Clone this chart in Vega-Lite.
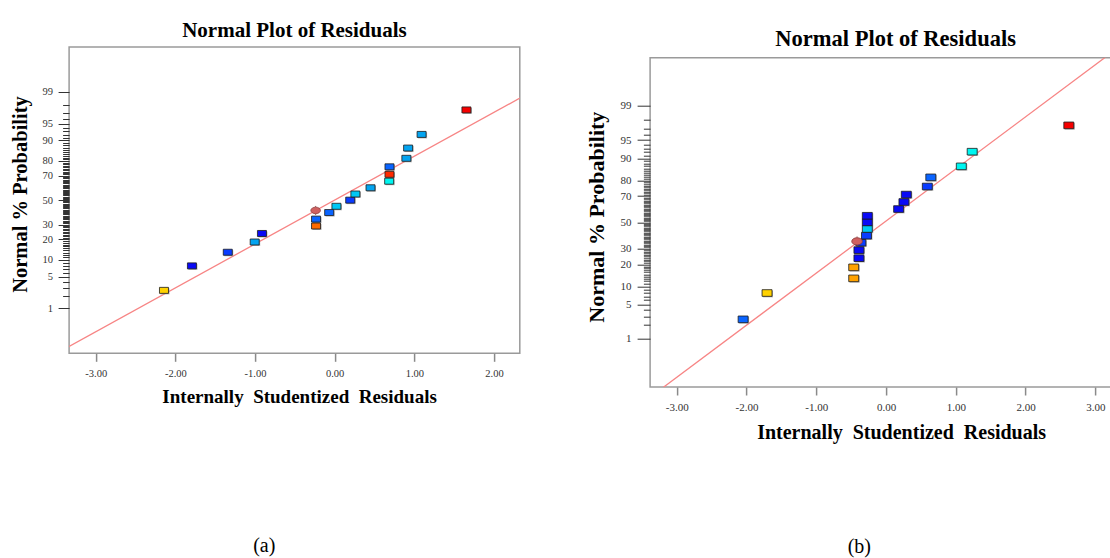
{
  "$schema": "https://vega.github.io/schema/vega-lite/v6.json",
  "autosize": "none",
  "padding": {"left": 69.1, "top": 18, "right": 1040.9, "bottom": 540},
  "background": "white",
  "config": {
    "view": {"stroke": "#9a9a9a", "strokeWidth": 1.5},
    "title": {"font": "Liberation Serif", "fontWeight": "bold", "color": "#000000"},
    "axis": {"labelFont": "Liberation Serif", "titleFont": "Liberation Serif", "titleFontWeight": "bold", "labelColor": "#333333", "titleColor": "#000000", "grid": false, "domain": false, "labelOverlap": false}
  },
  "datasets": {
    "pointsA": [
      {"residual": -2.143, "z": -1.938, "level": 7},
      {"residual": -1.792, "z": -1.412, "level": 1},
      {"residual": -1.342, "z": -1.119, "level": 2},
      {"residual": -1.004, "z": -0.899, "level": 4},
      {"residual": -0.913, "z": -0.716, "level": 1},
      {"residual": -0.234, "z": -0.555, "level": 9},
      {"residual": -0.234, "z": -0.407, "level": 3},
      {"residual": -0.069, "z": -0.266, "level": 3},
      {"residual": 0.022, "z": -0.132, "level": 5},
      {"residual": 0.195, "z": 0, "level": 2},
      {"residual": 0.26, "z": 0.132, "level": 5},
      {"residual": 0.45, "z": 0.266, "level": 4},
      {"residual": 0.684, "z": 0.407, "level": 6},
      {"residual": 0.688, "z": 0.555, "level": 10},
      {"residual": 0.688, "z": 0.716, "level": 3},
      {"residual": 0.9, "z": 0.899, "level": 4},
      {"residual": 0.922, "z": 1.119, "level": 4},
      {"residual": 1.091, "z": 1.412, "level": 4},
      {"residual": 1.654, "z": 1.938, "level": 11}
    ],
    "markerA": [{"residual": -0.239, "z": -0.221}],
    "lineA": [{"residual": -3.4, "z": -3.206}, {"residual": 2.4, "z": 2.263}],
    "pointsB": [
      {"residual": -2.048, "z": -1.938, "level": 3},
      {"residual": -1.705, "z": -1.412, "level": 7},
      {"residual": -0.463, "z": -1.119, "level": 8},
      {"residual": -0.463, "z": -0.899, "level": 8},
      {"residual": -0.388, "z": -0.716, "level": 1},
      {"residual": -0.388, "z": -0.555, "level": 1},
      {"residual": -0.36, "z": -0.407, "level": 2},
      {"residual": -0.28, "z": -0.266, "level": 2},
      {"residual": -0.268, "z": -0.132, "level": 5},
      {"residual": -0.268, "z": 0, "level": 1},
      {"residual": -0.268, "z": 0.132, "level": 1},
      {"residual": 0.181, "z": 0.266, "level": 1},
      {"residual": 0.257, "z": 0.407, "level": 1},
      {"residual": 0.291, "z": 0.555, "level": 1},
      {"residual": 0.592, "z": 0.716, "level": 2},
      {"residual": 0.642, "z": 0.899, "level": 3},
      {"residual": 1.079, "z": 1.119, "level": 6},
      {"residual": 1.235, "z": 1.412, "level": 6},
      {"residual": 2.62, "z": 1.938, "level": 11}
    ],
    "markerB": [{"residual": -0.415, "z": -0.38}],
    "lineB": [{"residual": -3.5, "z": -3.618}, {"residual": 3.7, "z": 3.878}]
  },
  "hconcat": [
    {
      "title": {"text": "(a)", "orient": "bottom", "anchor": "middle", "fontWeight": "normal", "fontSize": 20, "offset": 129.5, "dx": -1},
      "spacing": 0,
      "vconcat": [
        {"width": 1, "height": 1, "view": {"stroke": null}, "data": {"values": []}, "mark": {"type": "point", "opacity": 0}, "encoding": {}},
        {
          "width": 450.7,
          "height": 306.3,
          "title": {"text": "Normal Plot of Residuals", "fontSize": 21, "offset": 6},
          "encoding": {
            "x": {"field": "residual", "type": "quantitative",
              "scale": {"domain": [-3.334, 2.324], "nice": false, "zero": false},
              "axis": {"values": [-3, -2, -1, 0, 1, 2], "labelExpr": "(datum.value < 0 ? '-' : '') + format(abs(datum.value), '.2f')",
                "tickSize": 8, "tickColor": "#8a8a8a", "tickWidth": 1.5, "labelPadding": 7.5, "labelFontSize": 10.5,
                "title": "Internally\u00a0 Studentized\u00a0 Residuals", "titleFontSize": 19, "titlePadding": 7.8, "titleX": 230}},
            "y": {"field": "z", "type": "quantitative",
              "scale": {"domain": [-3.29, 3.29], "nice": false, "zero": false},
              "axis": {
                "values": [-2.3263, -2.0537, -1.8808, -1.7507, -1.6449, -1.5548, -1.4758, -1.4051, -1.3408, -1.2816, -1.2265, -1.175, -1.1264, -1.0803, -1.0364, -0.9945, -0.9542, -0.9154, -0.8779, -0.8416, -0.8064, -0.7722, -0.7388, -0.7063, -0.6745, -0.6433, -0.6128, -0.5828, -0.5534, -0.5244, -0.4959, -0.4677, -0.4399, -0.4125, -0.3853, -0.3585, -0.3319, -0.3055, -0.2793, -0.2533, -0.2275, -0.2019, -0.1764, -0.151, -0.1257, -0.1004, -0.0753, -0.0502, -0.0251, 0, 0.0251, 0.0502, 0.0753, 0.1004, 0.1257, 0.151, 0.1764, 0.2019, 0.2275, 0.2533, 0.2793, 0.3055, 0.3319, 0.3585, 0.3853, 0.4125, 0.4399, 0.4677, 0.4959, 0.5244, 0.5534, 0.5828, 0.6128, 0.6433, 0.6745, 0.7063, 0.7388, 0.7722, 0.8064, 0.8416, 0.8779, 0.9154, 0.9542, 0.9945, 1.0364, 1.0803, 1.1264, 1.175, 1.2265, 1.2816, 1.3408, 1.4051, 1.4758, 1.5548, 1.6449, 1.7507, 1.8808, 2.0537, 2.3263],
                "labelExpr": "indexof([1,5,10,20,30,50,70,80,90,95,99], round(cumulativeNormal(datum.value)*100)) >= 0 ? '' + round(cumulativeNormal(datum.value)*100) : ''",
                "tickSize": {"condition": {"test": "indexof([1,5,10,20,30,50,70,80,90,95,99], round(cumulativeNormal(datum.value)*100)) >= 0", "value": 11}, "value": 6.5},
                "tickColor": "#333333", "tickWidth": 1, "labelPadding": 5.5, "labelFontSize": 10.5,
                "title": "Normal % Probability", "titleFontSize": 20.5, "titlePadding": 11.4, "titleY": 147}}
          },
          "layer": [
            {"data": {"name": "lineA"}, "mark": {"type": "line", "color": "#f78585", "strokeWidth": 1.3, "clip": true}},
            {"data": {"name": "pointsA"}, "mark": {"type": "point", "shape": "M-1.5,-1L1.5,-1L1.5,1L-1.5,1Z", "filled": true, "size": 36, "color": "#9a9a9a", "opacity": 0.75, "xOffset": 1, "yOffset": 1}},
            {"data": {"name": "pointsA"}, "mark": {"type": "point", "shape": "M-1.5,-1L1.5,-1L1.5,1L-1.5,1Z", "filled": true, "size": 36, "stroke": "#1c1c1c", "strokeWidth": 0.8, "opacity": 1},
              "encoding": {"fill": {"field": "level", "type": "ordinal", "legend": null,
                "scale": {"domain": [1, 2, 3, 4, 5, 6, 7, 8, 9, 10, 11], "range": ["#0a0af5", "#0a3cff", "#0a64ff", "#04a4f0", "#00c8f5", "#00f5f0", "#ffd200", "#ffa200", "#ff6a00", "#ff2a00", "#f50000"]}}}},
            {"data": {"name": "markerA"}, "mark": {"type": "point", "shape": "M1.6,0C1.6,0.6075,0.8837,1.1,0,1.1C-0.8837,1.1,-1.6,0.6075,-1.6,0C-1.6,-0.6075,-0.8837,-1.1,0,-1.1C0.8837,-1.1,1.6,-0.6075,1.6,0ZM0,-1.1L0,-1.5M0,1.1L0,1.5", "filled": true, "size": 36, "fill": "#d06060", "stroke": "#8a3a3a", "strokeWidth": 0.8, "opacity": 1}}
          ]
        }
      ]
    },
    {
      "title": {"text": "(b)", "orient": "bottom", "anchor": "middle", "fontWeight": "normal", "fontSize": 20, "offset": 94.5, "dx": -4},
      "spacing": 7.7,
      "vconcat": [
        {"width": 1, "height": 1, "view": {"stroke": null}, "data": {"values": []}, "mark": {"type": "point", "opacity": 0}, "encoding": {}},
        {
          "width": 491,
          "height": 329.3,
          "title": {"text": "Normal Plot of Residuals", "fontSize": 22.5, "offset": 7},
          "encoding": {
            "x": {"field": "residual", "type": "quantitative",
              "scale": {"domain": [-3.381, 3.656], "nice": false, "zero": false},
              "axis": {"values": [-3, -2, -1, 0, 1, 2, 3], "labelExpr": "(datum.value < 0 ? '-' : '') + format(abs(datum.value), '.2f')",
                "tickSize": 8, "tickColor": "#8a8a8a", "tickWidth": 1.5, "labelPadding": 6.7, "labelFontSize": 11,
                "title": "Internally\u00a0 Studentized\u00a0 Residuals", "titleFontSize": 20, "titlePadding": 9.3, "titleX": 251}},
            "y": {"field": "z", "type": "quantitative",
              "scale": {"domain": [-3.29, 3.29], "nice": false, "zero": false},
              "axis": {
                "values": [-2.3263, -2.0537, -1.8808, -1.7507, -1.6449, -1.5548, -1.4758, -1.4051, -1.3408, -1.2816, -1.2265, -1.175, -1.1264, -1.0803, -1.0364, -0.9945, -0.9542, -0.9154, -0.8779, -0.8416, -0.8064, -0.7722, -0.7388, -0.7063, -0.6745, -0.6433, -0.6128, -0.5828, -0.5534, -0.5244, -0.4959, -0.4677, -0.4399, -0.4125, -0.3853, -0.3585, -0.3319, -0.3055, -0.2793, -0.2533, -0.2275, -0.2019, -0.1764, -0.151, -0.1257, -0.1004, -0.0753, -0.0502, -0.0251, 0, 0.0251, 0.0502, 0.0753, 0.1004, 0.1257, 0.151, 0.1764, 0.2019, 0.2275, 0.2533, 0.2793, 0.3055, 0.3319, 0.3585, 0.3853, 0.4125, 0.4399, 0.4677, 0.4959, 0.5244, 0.5534, 0.5828, 0.6128, 0.6433, 0.6745, 0.7063, 0.7388, 0.7722, 0.8064, 0.8416, 0.8779, 0.9154, 0.9542, 0.9945, 1.0364, 1.0803, 1.1264, 1.175, 1.2265, 1.2816, 1.3408, 1.4051, 1.4758, 1.5548, 1.6449, 1.7507, 1.8808, 2.0537, 2.3263],
                "labelExpr": "indexof([1,5,10,20,30,50,70,80,90,95,99], round(cumulativeNormal(datum.value)*100)) >= 0 ? '' + round(cumulativeNormal(datum.value)*100) : ''",
                "tickSize": {"condition": {"test": "indexof([1,5,10,20,30,50,70,80,90,95,99], round(cumulativeNormal(datum.value)*100)) >= 0", "value": 13}, "value": 6.7},
                "tickColor": "#333333", "tickWidth": 1, "labelPadding": 6, "labelFontSize": 11,
                "title": "Normal % Probability", "titleFontSize": 22, "titlePadding": 11.5, "titleY": 159}}
          },
          "layer": [
            {"data": {"name": "lineB"}, "mark": {"type": "line", "color": "#f78585", "strokeWidth": 1.3, "clip": true}},
            {"data": {"name": "pointsB"}, "mark": {"type": "point", "shape": "M-1.5,-1L1.5,-1L1.5,1L-1.5,1Z", "filled": true, "size": 44, "color": "#9a9a9a", "opacity": 0.75, "xOffset": 1, "yOffset": 1}},
            {"data": {"name": "pointsB"}, "mark": {"type": "point", "shape": "M-1.5,-1L1.5,-1L1.5,1L-1.5,1Z", "filled": true, "size": 44, "stroke": "#1c1c1c", "strokeWidth": 0.8, "opacity": 1},
              "encoding": {"fill": {"field": "level", "type": "ordinal", "legend": null,
                "scale": {"domain": [1, 2, 3, 4, 5, 6, 7, 8, 9, 10, 11], "range": ["#0a0af5", "#0a3cff", "#0a64ff", "#04a4f0", "#00c8f5", "#00f5f0", "#ffe000", "#ffa200", "#ff6a00", "#ff2a00", "#f50000"]}}}},
            {"data": {"name": "markerB"}, "mark": {"type": "point", "shape": "M1.6,0C1.6,0.6075,0.8837,1.1,0,1.1C-0.8837,1.1,-1.6,0.6075,-1.6,0C-1.6,-0.6075,-0.8837,-1.1,0,-1.1C0.8837,-1.1,1.6,-0.6075,1.6,0ZM0,-1.1L0,-1.5M0,1.1L0,1.5", "filled": true, "size": 44, "fill": "#d06060", "stroke": "#8a3a3a", "strokeWidth": 0.8, "opacity": 1}}
          ]
        }
      ]
    }
  ],
  "spacing": 63
}
